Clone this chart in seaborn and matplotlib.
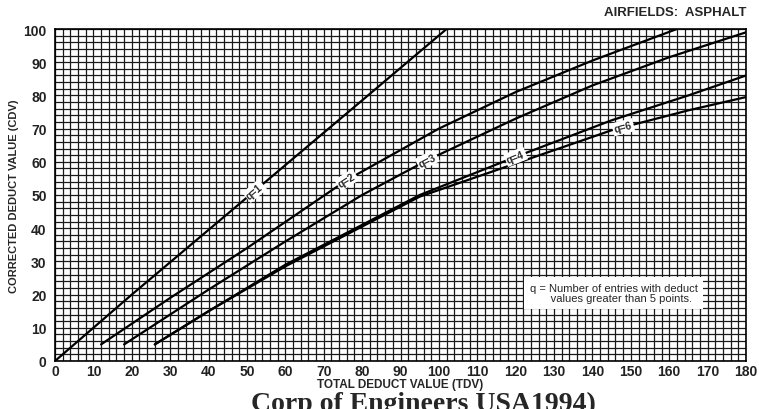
import numpy as np
import matplotlib
matplotlib.use("Agg")
import matplotlib.pyplot as plt
import seaborn as sns

# curves: total deduct value -> corrected deduct value
q_names = ["q=1", "q=2", "q=3", "q=4", "q=6"]
tdv_q1 = [0, 20, 40, 60, 80, 102]
cdv_q1 = [0, 20, 39.5, 59, 78.5, 100]
tdv_q2 = [12, 30, 50, 76, 100, 120, 140, 162]
cdv_q2 = [5, 19, 34, 54.5, 70, 81, 90.5, 100]
tdv_q3 = [18, 40, 60, 80, 97, 120, 140, 160, 180]
cdv_q3 = [5, 21.5, 36, 50, 60.5, 73, 83, 91.5, 99]
tdv_q4 = [26, 40, 60, 80, 95, 120, 145, 165, 180]
cdv_q4 = [5, 15, 29, 41, 50, 61.5, 72.5, 80, 86]
tdv_q6 = [26, 40, 60, 80, 95, 120, 145, 165, 180]
cdv_q6 = [5, 15, 28.5, 40.5, 49.5, 59.5, 69.5, 75.5, 79.5]

# where each curve label sits (TDV)
label_at = [52, 76, 97, 120, 148]

x_ticks = list(range(0, 181, 10))
y_ticks = list(range(0, 101, 10))

sns.set_style("white")
plt.rcParams["font.family"] = ["Liberation Sans", "DejaVu Sans"]

fig = plt.figure(figsize=(7.59, 4.10), dpi=100)
ax = fig.add_axes([55 / 759, 1 - 362 / 410, (746 - 55) / 759, (362 - 30) / 410])

curves = [(tdv_q1, cdv_q1), (tdv_q2, cdv_q2), (tdv_q3, cdv_q3),
          (tdv_q4, cdv_q4), (tdv_q6, cdv_q6)]
for tdv, cdv in curves:
    sns.lineplot(x=tdv, y=cdv, ax=ax, color="black", lw=1.6, zorder=3)

ax.set_xlim(0, 180)
ax.set_ylim(0, 100)
ax.set_xticks(x_ticks)
ax.set_yticks(y_ticks)
ax.set_xticks(np.arange(0, 181, 2), minor=True)
ax.set_yticks(np.arange(0, 101, 2), minor=True)
ax.grid(which="both", color="#1a1a1a", lw=0.9, zorder=1)
ax.set_axisbelow(True)
for s in ax.spines.values():
    s.set_color("black")
    s.set_linewidth(1.2)
ax.tick_params(axis="x", which="major", length=0, pad=2, labelsize=10, colors="#222222")
ax.tick_params(axis="y", which="major", length=5, width=1, pad=1, labelsize=10, colors="#222222")
ax.tick_params(which="minor", length=0)
for t in ax.get_xticklabels() + ax.get_yticklabels():
    t.set_fontweight("bold")

ax.set_xlabel("TOTAL DEDUCT VALUE (TDV)", fontsize=8.5, fontweight="bold", labelpad=0)
ax.set_ylabel("CORRECTED DEDUCT VALUE (CDV)", fontsize=8, fontweight="bold", labelpad=3)

fig.text(746 / 759, 1 - 13 / 410, "AIRFIELDS:  ASPHALT", ha="right", va="center",
         fontsize=9.5, fontweight="bold")

# curve labels, rotated along each curve
fig.canvas.draw()
for name, (tdv, cdv), xl in zip(q_names, curves, label_at):
    yl = np.interp(xl, tdv, cdv)
    p0 = ax.transData.transform((xl - 3, np.interp(xl - 3, tdv, cdv)))
    p1 = ax.transData.transform((xl + 3, np.interp(xl + 3, tdv, cdv)))
    ang = np.degrees(np.arctan2(p1[1] - p0[1], p1[0] - p0[0]))
    ax.text(xl, yl, name, rotation=ang, rotation_mode="anchor", ha="center", va="center",
            fontsize=7.5, fontweight="bold", zorder=5,
            bbox=dict(facecolor="white", edgecolor="none", pad=1.2))

# note box
ax.text(145.5, 20.5, "q = Number of entries with deduct\n     values greater than 5 points.",
        ha="center", va="center", fontsize=8, zorder=5, linespacing=1.1,
        bbox=dict(facecolor="white", edgecolor="none", pad=4))

fig.text(423 / 759, 1 - 392 / 410, "Corp of Engineers USA1994)", ha="center", va="top",
         fontsize=20, fontweight="bold", family=["Liberation Serif", "DejaVu Serif"])

fig.savefig("out.png", dpi=100)
